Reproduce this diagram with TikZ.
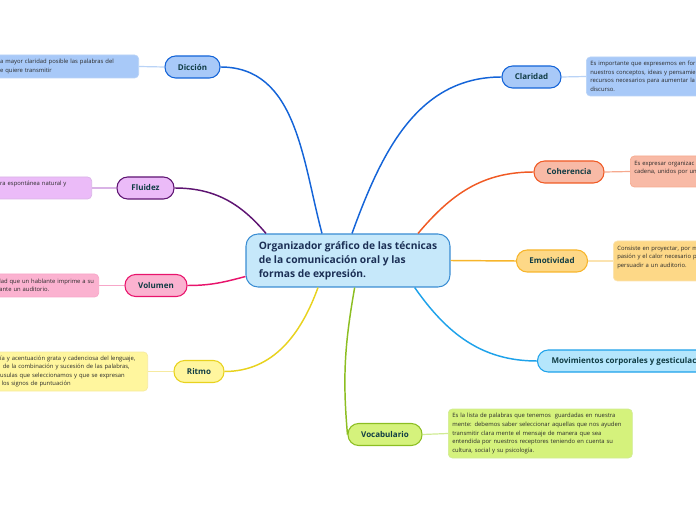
\documentclass[tikz,border=0pt]{standalone}
\usepackage{fontspec}
\setmainfont{Open Sans}
\usetikzlibrary{positioning}

\definecolor{centreFill}{HTML}{C6E8FA}
\definecolor{centreLine}{HTML}{3A8DD3}
\definecolor{blueFill}{HTML}{A8C9F8}
\definecolor{blueLine}{HTML}{1464D8}
\definecolor{blueSoft}{HTML}{B9D3F6}
\definecolor{purpleFill}{HTML}{EBBBF8}
\definecolor{purpleLine}{HTML}{5E1472}
\definecolor{purpleSoft}{HTML}{D9B3E6}
\definecolor{pinkFill}{HTML}{FBB2D0}
\definecolor{pinkLine}{HTML}{E8146C}
\definecolor{pinkSoft}{HTML}{F7A6C8}
\definecolor{yellowFill}{HTML}{FFF69E}
\definecolor{yellowLine}{HTML}{E8D21E}
\definecolor{yellowSoft}{HTML}{F6EAA0}
\definecolor{orangeFill}{HTML}{F8BAA6}
\definecolor{orangeLine}{HTML}{F05A24}
\definecolor{orangeSoft}{HTML}{F6A98E}
\definecolor{amberFill}{HTML}{FDD887}
\definecolor{amberLine}{HTML}{F7B52B}
\definecolor{amberSoft}{HTML}{FBE3B0}
\definecolor{skyFill}{HTML}{B5E6FC}
\definecolor{skyLine}{HTML}{1EA2EA}
\definecolor{limeFill}{HTML}{D5F27C}
\definecolor{limeLine}{HTML}{8CBE22}
\definecolor{limeSoft}{HTML}{D0EB94}
\definecolor{labelInk}{HTML}{103C44}
\definecolor{titleInk}{HTML}{1B2F55}
\definecolor{noteInk}{HTML}{2A2A2A}

\begin{document}
\begin{tikzpicture}[
  x=0.75pt, y=-0.75pt,
  branch/.style={draw, rounded corners=8pt, line width=0.8pt, minimum height=16.5pt,
    inner xsep=2pt, font=\fontsize{6}{7}\selectfont\bfseries, text=labelInk},
  note/.style={draw, rounded corners=3pt, line width=0.5pt, inner xsep=3pt, inner ysep=2.5pt,
    align=left, font=\fontsize{4.4}{6.4}\selectfont, text=noteInk},
  link/.style={line width=1.1pt},
  twig/.style={line width=0.9pt},
]
\useasboundingbox (0,0) rectangle (696,520);
\clip (0,0) rectangle (696,520);

% centre
\node[draw=centreLine, fill=centreFill, line width=0.8pt, rounded corners=9pt,
  minimum width=153pt, minimum height=39.75pt, align=left,
  font=\fontsize{7.7}{10.5}\selectfont\bfseries, text=titleInk] (org) at (348,260.5)
  {Organizador gráfico de las técnicas\\de la comunicación oral y las\\formas de expresión.};

% left branches
\node[branch, fill=blueFill, draw=blueLine, minimum width=41.25pt] (diccion) at (192.5,67) {Dicción};
\node[branch, fill=purpleFill, draw=purpleLine, minimum width=42.75pt] (fluidez) at (145.5,188) {Fluidez};
\node[branch, fill=pinkFill, draw=pinkLine, minimum width=46.5pt] (volumen) at (156,285.5) {Volumen};
\node[branch, fill=yellowFill, draw=yellowLine, minimum width=37.5pt] (ritmo) at (199,371.5) {Ritmo};

% right branches
\node[branch, fill=blueFill, draw=blueLine, minimum width=44.25pt] (claridad) at (531.5,77) {Claridad};
\node[branch, fill=orangeFill, draw=orangeLine, minimum width=52.5pt] (coherencia) at (569,172) {Coherencia};
\node[branch, fill=amberFill, draw=amberLine, minimum width=53.25pt] (emotividad) at (552,261) {Emotividad};
\node[branch, fill=skyFill, draw=skyLine, anchor=west, inner xsep=10.5pt] (movimientos) at (537,361)
  {Movimientos corporales y gesticulación};
\node[branch, fill=limeFill, draw=limeLine, minimum width=55.5pt] (vocabulario) at (385,434.5) {Vocabulario};

% notes
\node[note, fill=blueFill, draw=blueSoft, anchor=east, text width=100.9pt, minimum height=17.25pt]
  (diccionNote) at (139,66.5) {a mayor claridad posible las palabras del\\e quiere transmitir};
\node[note, fill=purpleFill, draw=purpleSoft, anchor=east, text width=65.6pt, minimum height=16.5pt]
  (fluidezNote) at (92,188) {ra espontánea natural y\\\mbox{}};
\node[note, fill=pinkFill, draw=pinkSoft, anchor=east, text width=73pt, minimum height=17.25pt]
  (volumenNote) at (99,285.5) {\hspace{1.5pt}lad que un hablante imprime a su\\\hspace{1.5pt}ante un auditorio.};
\node[note, fill=yellowFill, draw=yellowSoft, anchor=east, text width=107.6pt, minimum height=29.25pt]
  (ritmoNote) at (148,371.5) {ía y acentuación grata y cadenciosa del lenguaje,\\
  \hspace{2pt}de la combinación y sucesión de las palabras,\\
  usulas que seleccionamos y que se expresan\\
  \hspace{1pt}los signos de puntuación};
\node[note, fill=blueFill, draw=blueSoft, anchor=west, text width=150pt, minimum height=29.25pt]
  (claridadNote) at (586,76.5) {Es importante que expresemos en for\\nuestros conceptos, ideas y pensamie\\
  recursos necesarios para aumentar la\\discurso.};
\node[note, fill=orangeFill, draw=orangeSoft, anchor=west, text width=120pt, minimum height=23.25pt]
  (coherenciaNote) at (630,171.5) {Es expresar organizac\\cadena, unidos por un\\\mbox{}};
\node[note, fill=amberFill, draw=amberSoft, anchor=west, text width=120pt, minimum height=30pt]
  (emotividadNote) at (613,261) {Consiste en proyectar, por m\\pasión y el calor necesario p\\
  persuadir a un auditorio.\\\mbox{}};
\node[note, fill=limeFill, draw=limeSoft, anchor=west, text width=132pt, minimum height=36.75pt]
  (vocabularioNote) at (448,433.5) {Es la lista de palabras que tenemos\ \ guardadas en nuestra\\
  mente: debemos saber seleccionar aquellas que nos ayuden\\
  transmitir clara mente el mensaje de manera que sea\\
  entendida por nuestros receptores teniendo en cuenta su\\
  cultura, social y su psicología.};

% connectors
\draw[link, blueLine] ([xshift=-19.5pt]org.north) to[out=105, in=0] (diccion.east);
\draw[link, purpleLine] ([xshift=-61.5pt]org.north) to[out=130, in=0] (fluidez.east);
\draw[link, pinkLine] ([yshift=-12pt]org.west) to[out=195, in=0] (volumen.east);
\draw[link, yellowLine] ([xshift=-22.5pt]org.south) to[out=-110, in=0] (ritmo.east);
\draw[link, blueLine] ([xshift=3pt]org.north) to[out=70, in=180] (claridad.west);
\draw[link, orangeLine] ([xshift=52.5pt]org.north) to[out=50, in=180] (coherencia.west);
\draw[link, amberLine] (org.east) -- (emotividad.west);
\draw[link, skyLine] ([xshift=50pt]org.south) to[out=-55, in=180] (movimientos.west);
\draw[link, limeLine] ([xshift=5pt]org.south) to[out=-100, in=95] (vocabulario.west);

\draw[twig, blueSoft] (diccion.west) -- (diccionNote.east);
\draw[twig, purpleSoft] (fluidez.west) -- (fluidezNote.east);
\draw[twig, pinkSoft] (volumen.west) -- (volumenNote.east);
\draw[twig, yellowSoft] (ritmo.west) -- (ritmoNote.east);
\draw[twig, blueSoft] (claridad.east) -- (claridadNote.west);
\draw[twig, orangeSoft] (coherencia.east) -- (coherenciaNote.west);
\draw[twig, amberSoft] (emotividad.east) -- (emotividadNote.west);
\draw[twig, limeSoft] (vocabulario.east) -- (vocabularioNote.west);
\end{tikzpicture}
\end{document}
